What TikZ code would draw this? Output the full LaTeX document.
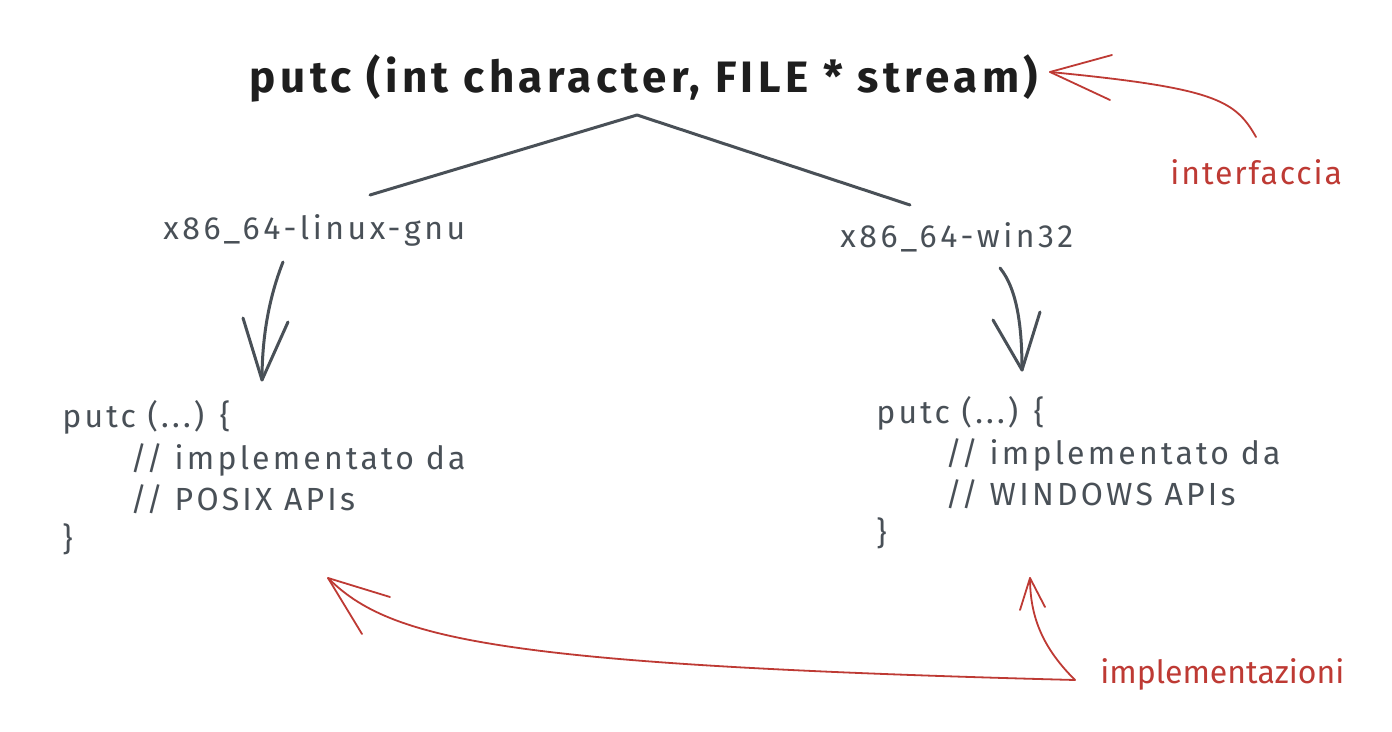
\documentclass[tikz,border=0pt]{standalone}
\usepackage{fontspec}
\setmainfont{Fira Sans}
\newfontfamily\titlefont[LetterSpace=10]{Fira Sans}
\newfontfamily\archfont[LetterSpace=11]{Fira Sans}
\newfontfamily\codefont[LetterSpace=10]{Fira Sans}
\newfontfamily\notefont[LetterSpace=6]{Fira Sans}
\newfontfamily\implfont[LetterSpace=0]{Fira Sans}
\begin{document}
\begin{tikzpicture}[x=0.5pt,y=-0.5pt,line cap=round,line join=round]
\definecolor{ink}{HTML}{1E1E1E}
\definecolor{grayink}{HTML}{495057}
\definecolor{redink}{HTML}{BE3A34}
\tikzset{
  titletext/.style={font=\titlefont\fontsize{22}{26}\selectfont\bfseries, text=ink, inner sep=0pt},
  archtext/.style={font=\archfont\fontsize{16}{19}\selectfont, text=grayink, inner sep=0pt, anchor=base west},
  codetext/.style={font=\codefont\fontsize{16}{19}\selectfont, text=grayink, inner sep=0pt, anchor=base west},
  notetext/.style={font=\notefont\fontsize{16}{19}\selectfont, text=redink, inner sep=0pt, anchor=base west},
  impltext/.style={font=\implfont\fontsize{16}{19}\selectfont, text=redink, inner sep=0pt, anchor=base west},
  graylink/.style={draw=grayink, line width=1.5pt},
  redlink/.style={draw=redink, line width=0.9pt},
}
\fill[white] (0,0) rectangle (1392,732);
\useasboundingbox (0,0) rectangle (1392,732);

% title
\node[titletext] (title) at (644,78) {putc (int character, FILE * stream)};

% branch lines
\coordinate (apex) at (637,115);
\coordinate (lend) at (370,195);
\coordinate (rend) at (910,205);
\draw[graylink] (lend) -- (apex) -- (rend);

% architecture labels
\node[archtext] (linux) at (163,240) {x86\_64-linux-gnu};
\node[archtext] (win) at (840,248) {x86\_64-win32};

% left code block
\node[codetext] (l1) at (62,428) {putc (...) \{};
\node[codetext] (l2) at (130,470) {// implementato da};
\node[codetext] (l3) at (130,510) {// POSIX APIs};
\node[codetext] (l4) at (62,550) {\}};

% right code block
\node[codetext] (r1) at (876,423) {putc (...) \{};
\node[codetext] (r2) at (945,465) {// implementato da};
\node[codetext] (r3) at (945,505) {// WINDOWS APIs};
\node[codetext] (r4) at (876,545) {\}};

% gray arrows
\coordinate (la0) at (283,262);
\coordinate (la1) at (262,380);
\coordinate (lab1) at (243,318);
\coordinate (lab2) at (288,322);
\draw[graylink] (la0) .. controls (268,300) and (262,340) .. (la1);
\draw[graylink] (lab1) -- (la1) -- (lab2);

\coordinate (ra0) at (1000,268);
\coordinate (ra1) at (1022,370);
\coordinate (rab1) at (993,320);
\coordinate (rab2) at (1040,312);
\draw[graylink] (ra0) .. controls (1018,290) and (1022,330) .. (ra1);
\draw[graylink] (rab1) -- (ra1) -- (rab2);

% interfaccia
\node[notetext] (iface) at (1170,185) {interfaccia};
\coordinate (if0) at (1256,137);
\coordinate (if1) at (1050,72);
\draw[redlink] (if0) .. controls (1235,100) and (1215,88) .. (if1);
\draw[redlink] (1112,55) -- (if1) -- (1110,100);

% implementazioni
\node[impltext] (impl) at (1100,683) {implementazioni};
\coordinate (im0) at (1075,680);
\coordinate (imL) at (328,578);
\coordinate (imR) at (1030,578);
\draw[redlink] (im0) .. controls (500,665) and (390,640) .. (imL);
\draw[redlink] (390,597) -- (imL) -- (362,634);
\draw[redlink] (im0) .. controls (1045,650) and (1030,620) .. (imR);
\draw[redlink] (1020,610) -- (imR) -- (1045,607);
\end{tikzpicture}
\end{document}
